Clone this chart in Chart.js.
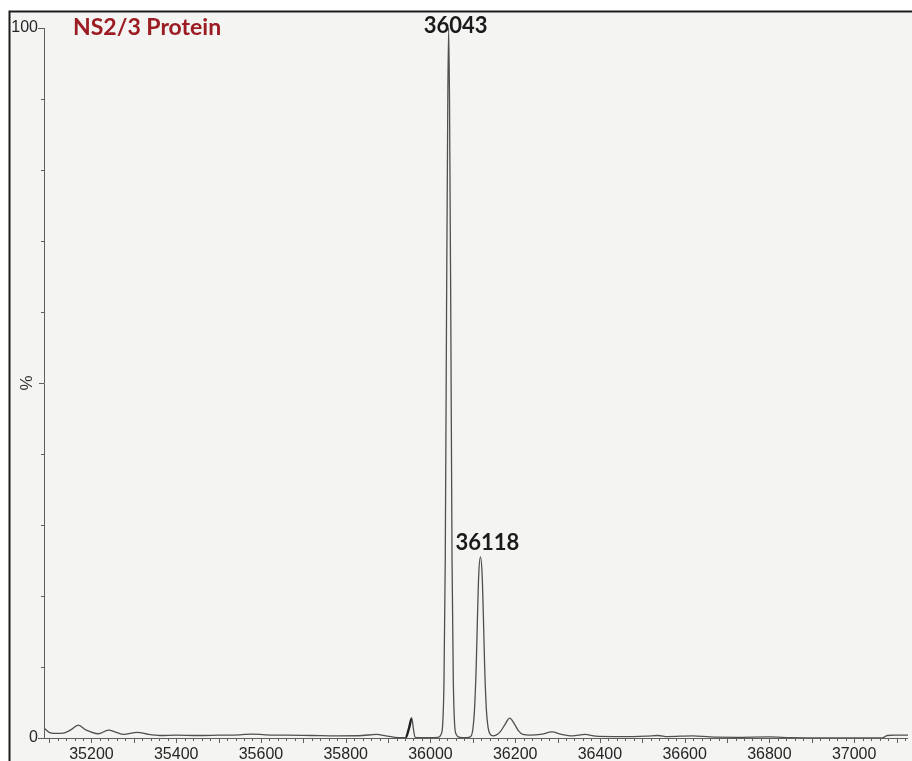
<!DOCTYPE html>
<html>
<head>
<meta charset="utf-8">
<script src="https://cdn.jsdelivr.net/npm/chart.js@4/dist/chart.umd.min.js"></script>
<style>
  html, body { margin: 0; padding: 0; background: #ffffff; }
  canvas { display: block; }
</style>
</head>
<body>
<canvas id="spectrum" width="912" height="761"></canvas>
<script>
// Deconvoluted mass spectrum of the NS2/3 protein (mass in Da, relative intensity in %)
const masses = [
  35090, 35100, 35111, 35134, 35150, 35169, 35188, 35216, 35240, 35258,
  35275, 35308, 35335, 35362, 35400, 35450, 35500, 35550, 35580, 35610,
  35660, 35720, 35780, 35840, 35872, 35895, 35915, 35935,
  35942, 35950, 35956, 35960, 35964, 35975, 36000,
  36018, 36025, 36029, 36032, 36035, 36038, 36041, 36043, 36045, 36048,
  36051, 36054, 36057, 36061, 36069, 36085,
  36095, 36100, 36104, 36108, 36111, 36114, 36118, 36122, 36125, 36128,
  36132, 36136, 36141, 36148,
  36155, 36165, 36175, 36187, 36198, 36208, 36218, 36235, 36260, 36287,
  36310, 36335, 36365, 36390, 36430, 36480, 36510, 36537, 36560, 36619,
  36660, 36720, 36800, 36850, 36920, 36990, 37066, 37078, 37095, 37129
];
const intensities = [
  1.3, 0.8, 0.65, 0.7, 1.1, 1.8, 1.1, 0.6, 1.1, 0.8,
  0.5, 0.8, 0.5, 0.35, 0.4, 0.35, 0.4, 0.45, 0.55, 0.45,
  0.4, 0.35, 0.3, 0.35, 0.5, 0.3, 0.1, 0.05,
  0.1, 1.5, 2.8, 1.2, 0.1, 0.05, 0.05,
  0.1, 0.5, 2, 8, 25, 60, 90, 100, 90, 60,
  25, 8, 2, 0.5, 0.1, 0.05,
  0.2, 1.2, 4, 10, 17, 23, 25.5, 23, 17, 10,
  4, 1.5, 0.5, 0.3,
  0.4, 0.9, 1.8, 2.8, 2.0, 1.0, 0.5, 0.4, 0.5, 0.85,
  0.5, 0.3, 0.5, 0.25, 0.2, 0.2, 0.25, 0.35, 0.2, 0.3,
  0.15, 0.1, 0.15, 0.05, 0, 0, 0, 0.35, 0.4, 0.4
];

// Labelled peaks
const peakMasses = [36043, 36118];
const peakIntensities = [100, 25.5];

// Axis labels
const xLabelValues = [35200, 35400, 35600, 35800, 36000, 36200, 36400, 36600, 36800, 37000];
const yLabelValues = [0, 100];
const yAxisTitle = '%';
const chartTitle = 'NS2/3 Protein';

// Tick marks: every 20 Da on x, every 10 % on y
const xTickValues = [];
for (let v = 35100; v <= 37120; v += 20) xTickValues.push(v);
const yTickValues = [];
for (let v = 0; v <= 100; v += 10) yTickValues.push(v);

// The short, heavy rising stroke just below 36000 Da
const heavyRange = [35940, 35957];

const AXIS_COLOR = '#5e5e5e';
const TRACE_COLOR = '#505050';

const framePlugin = {
  id: 'frame',
  beforeDraw(chart) {
    const c = chart.ctx;
    const W = chart.width, H = chart.height;
    c.save();
    c.fillStyle = '#ffffff';
    c.fillRect(0, 0, W, H);
    c.fillStyle = '#f4f4f3';
    c.fillRect(9, 11, W - 9, H - 11);
    c.strokeStyle = '#1c1c1c';
    c.lineWidth = 2;
    c.beginPath();
    c.moveTo(9.5, H);
    c.lineTo(9.5, 11.5);
    c.lineTo(W, 11.5);
    c.stroke();
    c.restore();
  }
};

const annotatePlugin = {
  id: 'annotate',
  afterDraw(chart) {
    const c = chart.ctx;
    const xs = chart.scales.x, ys = chart.scales.y;
    const area = chart.chartArea;
    c.save();
    c.strokeStyle = AXIS_COLOR;
    c.lineWidth = 1;
    c.beginPath();
    // x tick marks below the axis
    xTickValues.forEach(v => {
      const px = Math.round(xs.getPixelForValue(v)) + 0.5;
      if (px < area.left || px > area.right) return;
      const len = (v % 100 === 0) ? 5 : 3;
      c.moveTo(px, area.bottom);
      c.lineTo(px, area.bottom + len);
    });
    // y tick marks left of the axis
    yTickValues.forEach(v => {
      const py = Math.round(ys.getPixelForValue(v)) + 0.5;
      const len = (v === 0 || v === 100) ? 6 : (v === 50 ? 5 : 3);
      c.moveTo(area.left, py);
      c.lineTo(area.left - len, py);
    });
    c.stroke();

    // chart title
    c.fillStyle = '#9b1c22';
    c.font = 'bold 23px Lato';
    c.textAlign = 'left';
    c.textBaseline = 'alphabetic';
    c.fillText(chartTitle, 73, 35);

    // peak mass labels
    c.fillStyle = '#1a1a1a';
    c.font = 'bold 22px Lato';
    c.textAlign = 'center';
    peakMasses.forEach((m, i) => {
      const px = xs.getPixelForValue(m);
      const py = ys.getPixelForValue(peakIntensities[i]);
      const base = Math.max(py - 7, 33);
      c.fillText(String(m), px + 7, base);
    });
    c.restore();
  }
};

new Chart(document.getElementById('spectrum'), {
  type: 'line',
  data: {
    datasets: [{
      data: masses.map((m, i) => ({ x: m, y: intensities[i] })),
      borderColor: TRACE_COLOR,
      borderWidth: 1.3,
      pointRadius: 0,
      fill: false,
      cubicInterpolationMode: 'monotone',
      segment: {
        borderWidth: ctx => (ctx.p0.parsed.x >= heavyRange[0] && ctx.p1.parsed.x <= heavyRange[1]) ? 2.4 : undefined,
        borderColor: ctx => (ctx.p0.parsed.x >= heavyRange[0] && ctx.p1.parsed.x <= heavyRange[1]) ? '#1e1e1e' : undefined
      }
    }]
  },
  options: {
    responsive: false,
    animation: false,
    devicePixelRatio: 1,
    layout: { padding: { top: 28, left: 0, right: 0, bottom: 0 } },
    plugins: { legend: { display: false }, tooltip: { enabled: false } },
    scales: {
      x: {
        type: 'linear',
        min: 35088,
        max: 37127,
        grid: { display: false, drawTicks: false },
        border: { display: true, color: AXIS_COLOR, width: 1 },
        afterBuildTicks: s => { s.ticks = xTickValues.map(v => ({ value: v })); },
        afterFit: s => { s.height = 23; },
        ticks: {
          autoSkip: false,
          maxRotation: 0,
          minRotation: 0,
          padding: 7,
          color: '#262626',
          font: { family: 'Liberation Sans', size: 16 },
          callback: v => xLabelValues.includes(v) ? String(v) : ''
        }
      },
      y: {
        type: 'linear',
        min: 0,
        max: 100,
        grid: { display: false, drawTicks: false },
        border: { display: true, color: AXIS_COLOR, width: 1 },
        afterBuildTicks: s => { s.ticks = yTickValues.map(v => ({ value: v })); },
        afterFit: s => { s.width = 44; },
        title: {
          display: true,
          text: yAxisTitle,
          color: '#333333',
          font: { family: 'Liberation Sans', size: 17 },
          padding: { top: 17, bottom: 0 }
        },
        ticks: {
          autoSkip: false,
          padding: 6,
          color: '#262626',
          font: { family: 'Liberation Sans', size: 16 },
          callback: v => yLabelValues.includes(v) ? String(v) : ''
        }
      }
    }
  },
  plugins: [framePlugin, annotatePlugin]
});
</script>
</body>
</html>
